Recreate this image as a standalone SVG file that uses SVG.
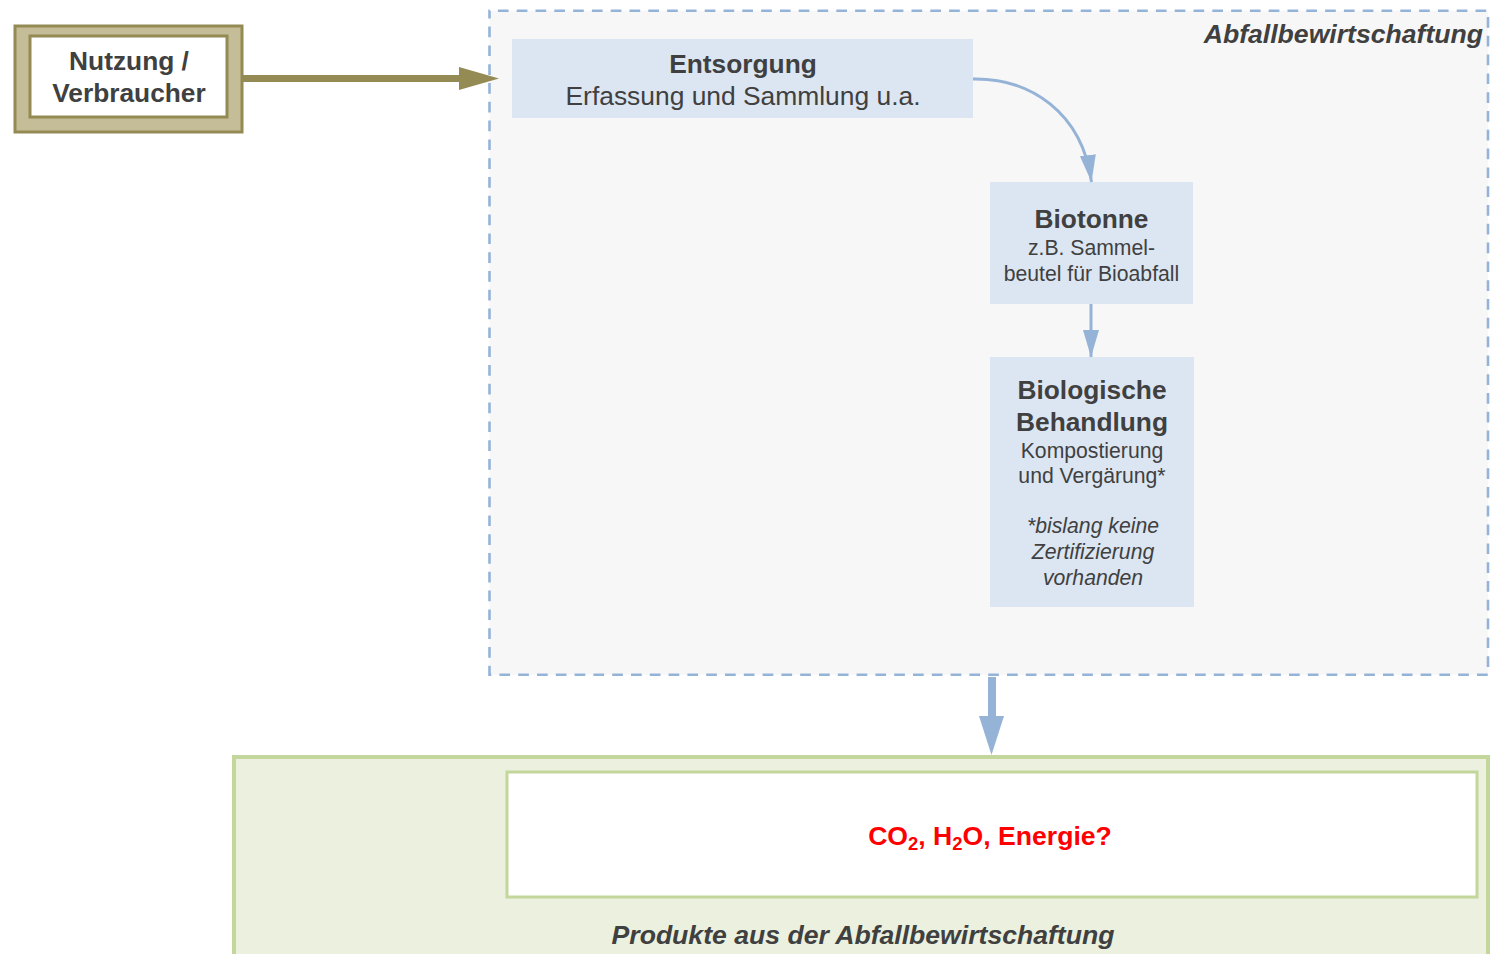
<svg xmlns="http://www.w3.org/2000/svg" width="1490" height="954" viewBox="0 0 1490 954">
  <defs>
    <style>
      text { font-family: "Liberation Sans", Arial, sans-serif; fill: #404040; text-anchor: middle; }
      .b { font-weight: bold; font-size: 26.3px; }
      .n { font-size: 26.4px; }
      .s { font-size: 21.2px; }
      .i { font-style: italic; font-size: 21.2px; }
      .bi { font-weight: bold; font-style: italic; font-size: 26.6px; }
      .step { fill: #dce6f2; }
      .blue { fill: none; stroke: #95b3d7; stroke-width: 3; }
    </style>
    <marker id="headBlue" markerUnits="userSpaceOnUse" markerWidth="30" markerHeight="18" refX="27" refY="8" orient="auto" viewBox="0 0 30 16">
      <path d="M0,0 L27,8 L0,16 Z" fill="#95b3d7"/>
    </marker>
  </defs>

  <rect width="1490" height="954" fill="#ffffff"/>

  <!-- waste management area -->
  <g id="abfallbewirtschaftung">
    <rect x="489.5" y="10.7" width="998.5" height="664" fill="#f7f7f7" stroke="#95b3d7" stroke-width="2.6" stroke-dasharray="10.7 8.1" stroke-dashoffset="10.4"/>
    <text class="bi" x="1483" y="43" style="text-anchor:end">Abfallbewirtschaftung</text>
  </g>

  <!-- products area -->
  <g id="produkte">
    <rect x="234" y="757" width="1254" height="210" fill="#ebf1de" stroke="#c3d69b" stroke-width="4"/>
    <text class="bi" x="863" y="944">Produkte aus der Abfallbewirtschaftung</text>
  </g>

  <g id="nutzung">
    <rect x="15" y="26" width="227" height="106" fill="#c4bd97" stroke="#948a54" stroke-width="3"/>
    <rect x="30" y="36" width="197" height="81" fill="#ffffff" stroke="#948a54" stroke-width="3"/>
    <text class="b" x="129" y="70">Nutzung /</text>
    <text class="b" x="129" y="102">Verbraucher</text>
  </g>

  <g id="entsorgung">
    <rect class="step" x="512" y="39" width="461" height="79"/>
    <text class="b" x="743" y="73">Entsorgung</text>
    <text class="n" x="743" y="105">Erfassung und Sammlung u.a.</text>
  </g>

  <g id="biotonne">
    <rect class="step" x="990" y="182" width="203" height="122"/>
    <text class="b" x="1091.5" y="228">Biotonne</text>
    <text class="s" x="1091.5" y="255">z.B. Sammel-</text>
    <text class="s" x="1091.5" y="281">beutel für Bioabfall</text>
  </g>

  <g id="behandlung">
    <rect class="step" x="990" y="357" width="204" height="250"/>
    <text class="b" x="1092" y="399">Biologische</text>
    <text class="b" x="1092" y="431">Behandlung</text>
    <text class="s" x="1092" y="458">Kompostierung</text>
    <text class="s" x="1092" y="483">und Vergärung*</text>
    <text class="i" x="1093" y="533">*bislang keine</text>
    <text class="i" x="1093" y="559">Zertifizierung</text>
    <text class="i" x="1093" y="585">vorhanden</text>
  </g>

  <g id="produkt-co2">
    <rect x="507" y="772" width="970" height="125" fill="#ffffff" stroke="#c3d69b" stroke-width="3"/>
    <text class="b" x="990" y="845" style="fill:#ff0000;font-size:26.6px">CO<tspan dy="5" font-size="18.5">2</tspan><tspan dy="-5">, H</tspan><tspan dy="5" font-size="18.5">2</tspan><tspan dy="-5">O, Energie?</tspan></text>
  </g>

  <!-- connectors -->
  <g id="connectors">
    <!-- Nutzung to Entsorgung -->
    <line x1="243" y1="78.5" x2="462" y2="78.5" stroke="#948a54" stroke-width="7"/>
    <path d="M459,67 L499,78.5 L459,90 Z" fill="#948a54"/>
    <!-- Entsorgung to Biotonne -->
    <path class="blue" d="M973,79 C1030,78 1082,112 1091.5,182" marker-end="url(#headBlue)"/>
    <!-- Biotonne to Behandlung -->
    <line class="blue" x1="1091" y1="304" x2="1091" y2="357" marker-end="url(#headBlue)"/>
    <!-- area to products -->
    <rect x="988" y="677" width="8" height="42" fill="#95b3d7"/>
    <path d="M979,716 L1004,716 L991.5,755 Z" fill="#95b3d7"/>
  </g>
</svg>
